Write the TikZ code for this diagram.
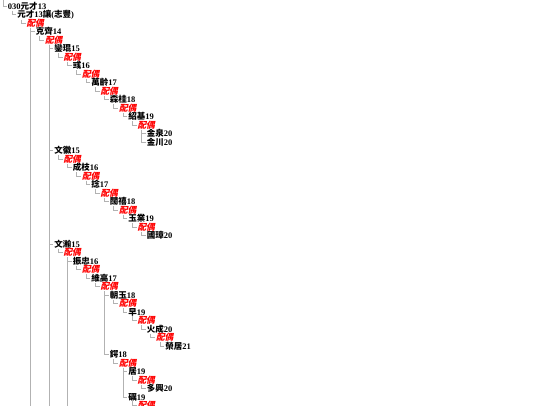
\documentclass[tikz,border=0pt]{standalone}
\usepackage{fontspec}
\setmainfont{Liberation Serif}
\newfontfamily\cjk{Noto Sans CJK TC}
\newfontfamily\cjksl[FakeSlant=0.22]{Noto Sans CJK TC}
\tikzset{
  lbl/.style={anchor=west, inner sep=0pt, outer sep=0pt, text=black,
    font=\fontsize{8.5}{8.5}\selectfont\bfseries},
  spouse/.style={lbl, text=red, font=\fontsize{8.7}{8.7}\selectfont\bfseries\cjksl},
  conn/.style={draw=black!30, line width=0.7pt},
}
% name, level, line, text, parent
\newcommand\myname[5]{%
  \node[lbl] (#1) at ({8+9.25*#2},{6+8.5*#3}) {#4};
  \draw[conn] ([xshift=4pt,yshift=-0.5pt]#5.south west) |- ([xshift=-1pt]#1.west);}
% name, level, line, parent
\newcommand\myspouse[4]{%
  \node[spouse] (#1) at ({8+9.25*#2},{6+8.5*#3}) {配偶};
  \draw[conn] ([xshift=4pt,yshift=-0.5pt]#4.south west) |- ([xshift=-1pt]#1.west);}
\begin{document}
\begin{tikzpicture}[x=1pt,y=-1pt]
\useasboundingbox[fill=white] (0,0) rectangle (540,405);
\clip (0,0) rectangle (540,405);
\coordinate (root) at (3,0);
\node[lbl] (a0) at (8,6) {030{\cjk 元才}13};
\draw[conn] (root) |- ([xshift=-1pt]a0.west);
\myname{a1}{1}{1}{{\cjk 元才}13{\cjk 讓}({\cjk 志豐})}{a0}
\myspouse{s2}{2}{2}{a1}
\myname{a3}{3}{3}{{\cjk 克齊}14}{s2}
\myspouse{s4}{4}{4}{a3}
\myname{a5}{5}{5}{{\cjk 鑾琨}15}{s4}
\myspouse{s6}{6}{6}{a5}
\myname{a7}{7}{7}{{\cjk 彧}16}{s6}
\myspouse{s8}{8}{8}{a7}
\myname{a9}{9}{9}{{\cjk 萬齡}17}{s8}
\myspouse{s10}{10}{10}{a9}
\myname{a11}{11}{11}{{\cjk 森桂}18}{s10}
\myspouse{s12}{12}{12}{a11}
\myname{a13}{13}{13}{{\cjk 紹基}19}{s12}
\myspouse{s14}{14}{14}{a13}
\myname{a15}{15}{15}{{\cjk 金泉}20}{s14}
\myname{a16}{15}{16}{{\cjk 金川}20}{s14}
\myname{a17}{5}{17}{{\cjk 文徽}15}{s4}
\myspouse{s18}{6}{18}{a17}
\myname{a19}{7}{19}{{\cjk 成枝}16}{s18}
\myspouse{s20}{8}{20}{a19}
\myname{a21}{9}{21}{{\cjk 捻}17}{s20}
\myspouse{s22}{10}{22}{a21}
\myname{a23}{11}{23}{{\cjk 闊禧}18}{s22}
\myspouse{s24}{12}{24}{a23}
\myname{a25}{13}{25}{{\cjk 玉業}19}{s24}
\myspouse{s26}{14}{26}{a25}
\myname{a27}{15}{27}{{\cjk 國璋}20}{s26}
\myname{a28}{5}{28}{{\cjk 文瀚}15}{s4}
\myspouse{s29}{6}{29}{a28}
\myname{a30}{7}{30}{{\cjk 振忠}16}{s29}
\myspouse{s31}{8}{31}{a30}
\myname{a32}{9}{32}{{\cjk 維高}17}{s31}
\myspouse{s33}{10}{33}{a32}
\myname{a34}{11}{34}{{\cjk 朝玉}18}{s33}
\myspouse{s35}{12}{35}{a34}
\myname{a36}{13}{36}{{\cjk 早}19}{s35}
\myspouse{s37}{14}{37}{a36}
\myname{a38}{15}{38}{{\cjk 火成}20}{s37}
\myspouse{s39}{16}{39}{a38}
\myname{a40}{17}{40}{{\cjk 榮居}21}{s39}
\myname{a41}{11}{41}{{\cjk 鍔}18}{s33}
\myspouse{s42}{12}{42}{a41}
\myname{a43}{13}{43}{{\cjk 居}19}{s42}
\myspouse{s44}{14}{44}{a43}
\myname{a45}{15}{45}{{\cjk 多興}20}{s44}
\myname{a46}{13}{46}{{\cjk 礪}19}{s42}
\myspouse{s47}{14}{47}{a46}
% continuation of sibling lines beyond the bottom edge
\coordinate (e2) at (30.5,430);
\coordinate (e4) at (49,430);
\coordinate (e29) at (67.5,430);
\draw[conn] ([xshift=4pt,yshift=-0.5pt]s2.south west) -- (e2);
\draw[conn] ([xshift=4pt,yshift=-0.5pt]s4.south west) -- (e4);
\draw[conn] ([xshift=4pt,yshift=-0.5pt]s29.south west) -- (e29);
\end{tikzpicture}
\end{document}
